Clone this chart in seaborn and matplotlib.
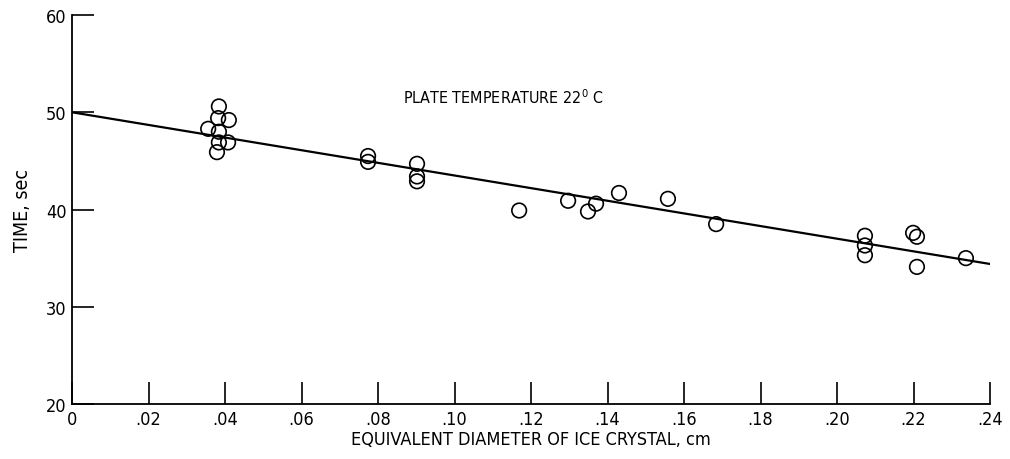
import matplotlib
matplotlib.use("Agg")
import matplotlib.pyplot as plt
import seaborn as sns
import pandas as pd

# measured points: equivalent diameter (cm) vs time (sec)
diameter = [0.0384, 0.0382, 0.0410, 0.0356, 0.0384, 0.0408, 0.0384, 0.0379,
            0.0774, 0.0774, 0.0902, 0.0902, 0.0902,
            0.1169, 0.1297, 0.1349, 0.1370, 0.1430, 0.1558, 0.1684,
            0.2073, 0.2073, 0.2073, 0.2199, 0.2209, 0.2209, 0.2337]
time_sec = [50.6, 49.4, 49.2, 48.3, 48.0, 46.9, 46.9, 45.9,
            45.5, 44.9, 44.7, 43.4, 42.9,
            39.9, 40.9, 39.8, 40.6, 41.7, 41.1, 38.5,
            37.3, 36.3, 35.3, 37.6, 37.2, 34.1, 35.0]

# fitted line end points
fit_x = [0.0, 0.24]
fit_y = [50.0, 34.4]

xticks = [0, .02, .04, .06, .08, .10, .12, .14, .16, .18, .20, .22, .24]
xticklabels = ["0", ".02", ".04", ".06", ".08", ".10", ".12", ".14",
               ".16", ".18", ".20", ".22", ".24"]
yticks = [20, 30, 40, 50, 60]

sns.set_style("white")
plt.rcParams["font.family"] = ["DejaVu Sans"]
plt.rcParams["font.stretch"] = "condensed"
plt.rcParams["text.color"] = "black"
plt.rcParams["axes.labelcolor"] = "black"

fig = plt.figure(figsize=(10.1, 4.6), dpi=100)
ax = fig.add_axes([0.0713, 0.1196, 0.9089, 0.8455])

pts = pd.DataFrame({"d": diameter, "t": time_sec})
fit = pd.DataFrame({"d": fit_x, "t": fit_y})

sns.lineplot(data=fit, x="d", y="t", ax=ax, color="black", linewidth=1.6)
sns.scatterplot(data=pts, x="d", y="t", ax=ax, s=110, facecolor="none",
                edgecolor="black", linewidth=1.2, zorder=3)

ax.set_xlim(0, 0.24)
ax.set_ylim(20, 60)
ax.set_xticks(xticks)
ax.set_xticklabels(xticklabels)
ax.set_yticks(yticks)
ax.tick_params(bottom=True, left=True, direction="in", length=16, width=1.2,
               labelsize=13, colors="black", pad=4)
for side in ["top", "right"]:
    ax.spines[side].set_visible(False)
for side in ["left", "bottom"]:
    ax.spines[side].set_color("black")
    ax.spines[side].set_linewidth(1.3)

ax.set_xlabel("EQUIVALENT DIAMETER OF ICE CRYSTAL, cm", fontsize=13, labelpad=2)
ax.set_ylabel("TIME, sec", fontsize=14, labelpad=10)
ax.text(0.0865, 51.6, "PLATE TEMPERATURE 22$^{0}$ C", fontsize=11.5, va="center")

fig.savefig("out.png", dpi=100)
